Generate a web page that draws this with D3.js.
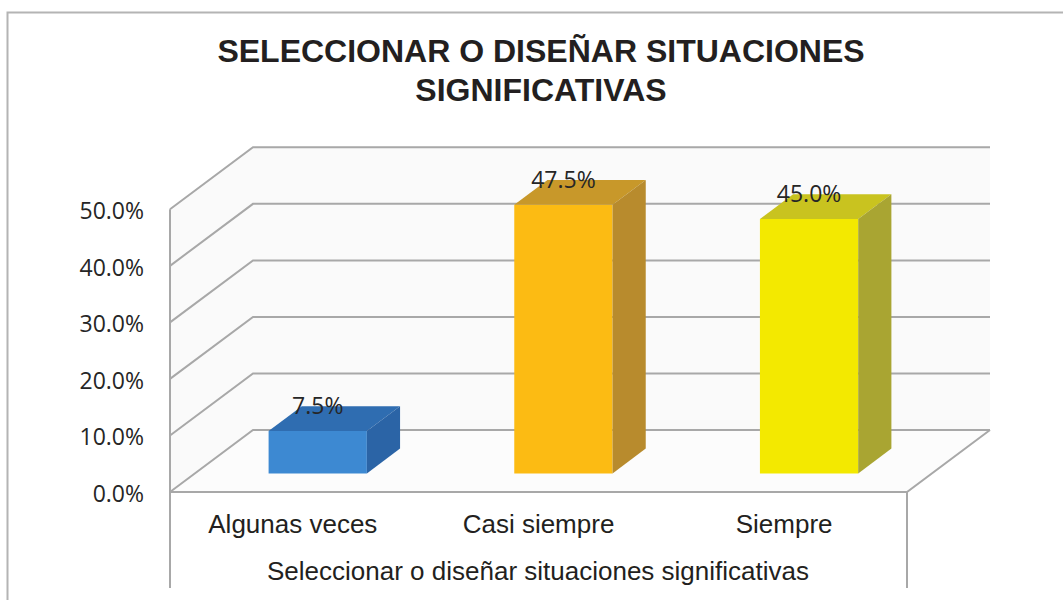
<!DOCTYPE html>
<html>
<head>
<meta charset="utf-8">
<script src="https://cdnjs.cloudflare.com/ajax/libs/d3/7.8.5/d3.min.js"></script>
<style>
  body {margin: 0; background: #fff;}
  svg {display: block;}
</style>
</head>
<body>
<div class="chartWrap"></div>
<script>
//Data
const categories = ['Algunas veces', 'Casi siempre', 'Siempre'];
const values = [0.075, 0.475, 0.45];
const yTicks = [0, 0.1, 0.2, 0.3, 0.4, 0.5];
const titleLines = ['SELECCIONAR O DISEÑAR SITUACIONES', 'SIGNIFICATIVAS'];
const axisTitle = 'Seleccionar o diseñar situaciones significativas';

//Variables
let w = 1063,
  h = 600,
  depth = {dx: 83, dy: -62}, //offset from front plane to back wall
  barDepth = [0.3, 0.7], //bar sits between these depth fractions
  faces = [
    {front: '#3d89d2', top: '#2f6db1', side: '#2b64a6'},
    {front: '#fcbb13', top: '#c8982a', side: '#b88b2d'},
    {front: '#f3e900', top: '#c9c31f', side: '#a9a532'}
  ],
  gridColor = '#a8a8a8';

let canvas = d3.select('.chartWrap').append('svg').attr('width', w).attr('height', h);

//Scales (front plane)
let xScale = d3.scaleBand().domain(categories).range([170, 907]).paddingInner(0.6).paddingOuter(0.3);
let yScale = d3.scaleLinear().domain([0, 0.5]).range([492, 209.3]);
let x0 = xScale.range()[0], x1 = xScale.range()[1];

function proj(x, y, f) {return [x + f * depth.dx, y + f * depth.dy];}
function pts(arr) {return arr.map(function(p) {return p.join(',');}).join(' ');}

//Outer border (only top and left show)
canvas.append('path').attr('d', 'M7.5,' + h + ' V12.5 H' + w)
  .attr('fill', 'none').attr('stroke', '#b4b4b4').attr('stroke-width', 2);

//Title
canvas.append('g').selectAll('text').data(titleLines).enter().append('text')
  .text(function(d) {return d;})
  .attr('x', 541).attr('y', function(d, i) {return 62 + i * 39;})
  .attr('text-anchor', 'middle').attr('font-family', 'Liberation Sans, Arial, sans-serif')
  .attr('font-weight', 'bold').attr('font-size', 32).attr('fill', '#231f20');

//Walls and floor
let yTop = yScale(0.5), yBot = yScale(0);
let walls = canvas.append('g');
walls.append('polygon').attr('points', pts([proj(x0, yBot, 1), proj(x1, yBot, 1), proj(x1, yTop, 1), proj(x0, yTop, 1)])).attr('fill', '#fafafa');
walls.append('polygon').attr('points', pts([proj(x0, yBot, 0), proj(x0, yBot, 1), proj(x0, yTop, 1), proj(x0, yTop, 0)])).attr('fill', '#fafafa');
walls.append('polygon').attr('points', pts([proj(x0, yBot, 0), proj(x1, yBot, 0), proj(x1, yBot, 1), proj(x0, yBot, 1)])).attr('fill', '#fcfcfc');

//Gridlines: side wall diagonal + back wall horizontal
let grid = canvas.append('g').attr('fill', 'none').attr('stroke', gridColor).attr('stroke-width', 2);
yTicks.forEach(function(t) {
  let y = yScale(t);
  grid.append('polyline').attr('points', pts([proj(x0, y, 0), proj(x0, y, 1), proj(x1, y, 1)]));
});
//Front left edge down into the category area, floor front and right edges
grid.append('line').attr('x1', x0).attr('x2', x0).attr('y1', yTop).attr('y2', 588);
grid.append('polyline').attr('points', pts([proj(x0, yBot, 0), proj(x1, yBot, 0), proj(x1, yBot, 1)]));
grid.append('line').attr('x1', x1).attr('x2', x1).attr('y1', yBot).attr('y2', 588);

//Y axis labels
canvas.append('g').selectAll('text').data(yTicks).enter().append('text')
  .text(function(d) {return d3.format('.1%')(d);})
  .attr('x', 144).attr('y', function(d) {return yScale(d) + 10;})
  .attr('text-anchor', 'end').attr('font-family', 'Open Sans, sans-serif')
  .attr('font-size', 23).attr('fill', '#262626');

//Bars as 3D boxes
let bars = canvas.append('g').selectAll('g').data(values).enter().append('g');
bars.each(function(v, i) {
  let g = d3.select(this),
    xl = xScale(categories[i]),
    xr = xl + xScale.bandwidth(),
    fa = barDepth[0], fb = barDepth[1],
    yb = yScale(0), yt = yScale(v);
  //front
  g.append('polygon').attr('points', pts([proj(xl, yb, fa), proj(xr, yb, fa), proj(xr, yt, fa), proj(xl, yt, fa)]))
    .attr('fill', faces[i].front);
  //top
  g.append('polygon').attr('points', pts([proj(xl, yt, fa), proj(xr, yt, fa), proj(xr, yt, fb), proj(xl, yt, fb)]))
    .attr('fill', faces[i].top);
  //side
  g.append('polygon').attr('points', pts([proj(xr, yb, fa), proj(xr, yb, fb), proj(xr, yt, fb), proj(xr, yt, fa)]))
    .attr('fill', faces[i].side);
  //value label
  let c = proj(xl + xScale.bandwidth() / 2, yt, fa);
  g.append('text').text(d3.format('.1%')(v))
    .attr('x', c[0]).attr('y', c[1] - 17)
    .attr('text-anchor', 'middle').attr('font-family', 'Open Sans, sans-serif')
    .attr('font-size', 23).attr('fill', '#262626');
});

//Category labels
canvas.append('g').selectAll('text').data(categories).enter().append('text')
  .text(function(d) {return d;})
  .attr('x', function(d) {return xScale(d) + xScale.bandwidth() / 2;}).attr('y', 533)
  .attr('text-anchor', 'middle').attr('font-family', 'Liberation Sans, Arial, sans-serif')
  .attr('font-size', 26).attr('fill', '#231f20');

//Axis title
canvas.append('text').text(axisTitle)
  .attr('x', 538).attr('y', 580)
  .attr('text-anchor', 'middle').attr('font-family', 'Liberation Sans, Arial, sans-serif')
  .attr('font-size', 26).attr('fill', '#231f20');
</script>
</body>
</html>
